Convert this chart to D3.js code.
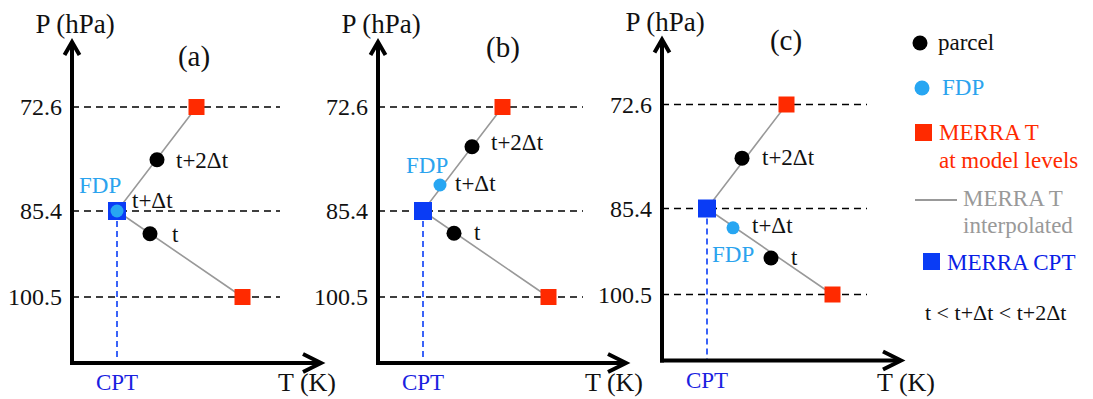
<!DOCTYPE html>
<html>
<head>
<meta charset="utf-8">
<script src="https://cdn.jsdelivr.net/npm/d3@7"></script>
<style>
  html, body { margin: 0; padding: 0; background: #fff; }
  svg { display: block; }
</style>
</head>
<body>
<svg id="chart" width="1093" height="399"></svg>
<script>
// ---------------- data ----------------
const panelNames = ["(a)", "(b)", "(c)"];
const levelP = [72.6, 85.4, 100.5];               // MERRA model levels (hPa)
const levelLabels = ["72.6", "85.4", "100.5"];
const merraT = [197.45, 189.5, 202.05];           // MERRA T at model levels (K, schematic)
const cptT = 189.5;                               // MERRA cold point temperature
const cptP = 85.4;
const stepLabels = ["t", "t+Δt", "t+2Δt"];
const fdpIndex = [1, 1, 1];                        // which parcel step is the FDP in each panel
const parcelT_a = [192.8, 189.5, 193.5];
const parcelP_a = [89.4, 85.4, 79.1];
const parcelT_b = [192.6, 191.2, 194.4];
const parcelP_b = [89.3, 82.2, 77.5];
const parcelT_c = [195.9, 192.1, 193.0];
const parcelP_c = [94.1, 88.8, 79.2];
const parcelT = [parcelT_a, parcelT_b, parcelT_c];
const parcelP = [parcelP_a, parcelP_b, parcelP_c];
const legendLabels = ["parcel", "FDP", "MERRA T", "at model levels", "MERRA T", "interpolated", "MERRA CPT", "t < t+Δt < t+2Δt"];

// ---------------- styles / layout ----------------
const FONT = '"Liberation Serif", Tinos, "Times New Roman", "DejaVu Serif", "Noto Serif", serif';
const C = {
  red: "#ff2a00", blue: "#0a3cf5", light: "#27a6f2", gray: "#999999",
  cptText: "#1a22e0", fdpText: "#2ba3ee", legBlue: "#0a1ee6"
};
const layout = [
  { x0: 72,  dy: 0,    xEnd: 321, dashEnd: 280, titleX: 194, titleY: 66, pY: 33, tkX: 278,
    lab: [{dx: 22, dy: 8}, {dx: 15, dy: -3}, {dx: 19, dy: 8}],
    fdp: {dx: -38, dy: -18} },
  { x0: 378, dy: 0,    xEnd: 626, dashEnd: 583, titleX: 503, titleY: 57, pY: 33, tkX: 585,
    lab: [{dx: 20, dy: 7}, {dx: 15, dy: 6}, {dx: 19, dy: 3}],
    fdp: {dx: -34, dy: -12} },
  { x0: 662, dy: -2.5, xEnd: 901, dashEnd: 867, titleX: 786, titleY: 52, pY: 33, tkX: 877,
    lab: [{dx: 20, dy: 7}, {dx: 19, dy: 5}, {dx: 20, dy: 7}],
    fdp: {dx: -21, dy: 34} }
];

const svg = d3.select("#chart").attr("font-family", FONT);

panelNames.forEach((name, i) => {
  const L = layout[i];
  const g = svg.append("g").attr("transform", `translate(0,${L.dy})`);
  const x = d3.scaleLinear().domain([185, 210]).range([L.x0, L.x0 + 250]);
  const y = d3.scaleLinear().domain(levelP).range([107, 211, 297]);
  const yAxisTop = 42, xAxisY = 363;

  // dashed level lines
  g.selectAll(".lvl").data(levelP).join("line")
    .attr("x1", L.x0).attr("x2", L.dashEnd)
    .attr("y1", d => y(d)).attr("y2", d => y(d))
    .attr("stroke", "#000").attr("stroke-width", 1.6).attr("stroke-dasharray", "7,5");

  // level tick labels
  g.selectAll(".lvlLab").data(levelP).join("text")
    .attr("x", L.x0 - 10).attr("y", d => y(d) + 8)
    .attr("text-anchor", "end").attr("font-size", 24).attr("fill", "#111")
    .text((d, k) => levelLabels[k]);

  // CPT dashed vertical
  g.append("line")
    .attr("x1", x(cptT)).attr("x2", x(cptT))
    .attr("y1", y(cptP)).attr("y2", xAxisY)
    .attr("stroke", C.blue).attr("stroke-width", 1.6).attr("stroke-dasharray", "6,4");

  // MERRA interpolated profile
  const line = d3.line().x(d => x(d[0])).y(d => y(d[1]));
  g.append("path")
    .attr("d", line(merraT.map((t, k) => [t, levelP[k]])))
    .attr("fill", "none").attr("stroke", C.gray).attr("stroke-width", 1.6);

  // axes
  g.append("line").attr("x1", L.x0).attr("x2", L.x0).attr("y1", xAxisY + 2).attr("y2", yAxisTop)
    .attr("stroke", "#000").attr("stroke-width", 4);
  g.append("line").attr("x1", L.x0 - 2).attr("x2", L.xEnd - 1).attr("y1", xAxisY).attr("y2", xAxisY)
    .attr("stroke", "#000").attr("stroke-width", 4);
  g.append("path")
    .attr("d", `M${L.x0 - 7.5},${yAxisTop + 13} L${L.x0},${yAxisTop} L${L.x0 + 7.5},${yAxisTop + 13}`)
    .attr("fill", "none").attr("stroke", "#000").attr("stroke-width", 4).attr("stroke-linejoin", "miter");
  g.append("path")
    .attr("d", `M${L.xEnd - 18},${xAxisY - 9} L${L.xEnd},${xAxisY} L${L.xEnd - 18},${xAxisY + 9}`)
    .attr("fill", "none").attr("stroke", "#000").attr("stroke-width", 4).attr("stroke-linejoin", "miter");

  // red squares at model levels (top and bottom)
  const rs = 16;
  g.selectAll(".red").data([0, 2]).join("rect")
    .attr("x", k => x(merraT[k]) - rs / 2).attr("y", k => y(levelP[k]) - rs / 2)
    .attr("width", rs).attr("height", rs).attr("fill", C.red);

  // CPT blue square
  const bs = 18;
  g.append("rect").attr("x", x(cptT) - bs / 2).attr("y", y(cptP) - bs / 2)
    .attr("width", bs).attr("height", bs).attr("fill", C.blue);

  // parcels
  const pts = parcelT[i].map((t, k) => ({ t, p: parcelP[i][k], k }));
  g.selectAll(".pt").data(pts).join("circle")
    .attr("cx", d => x(d.t)).attr("cy", d => y(d.p))
    .attr("r", d => d.k === fdpIndex[i] ? 6.5 : 7.5)
    .attr("fill", d => d.k === fdpIndex[i] ? C.light : "#000");

  g.selectAll(".ptLab").data(pts).join("text")
    .attr("x", d => x(d.t) + L.lab[d.k].dx).attr("y", d => y(d.p) + L.lab[d.k].dy)
    .attr("font-size", 23).attr("fill", "#111")
    .text(d => stepLabels[d.k]);

  const f = pts[fdpIndex[i]];
  g.append("text")
    .attr("x", x(f.t) + L.fdp.dx).attr("y", y(f.p) + L.fdp.dy)
    .attr("font-size", 23).attr("fill", C.fdpText).text("FDP");

  // titles
  g.append("text").attr("x", L.titleX).attr("y", L.titleY).attr("text-anchor", "middle")
    .attr("font-size", 29).attr("fill", "#111").text(name);
  g.append("text").attr("x", L.x0 + 3).attr("y", L.pY).attr("text-anchor", "middle")
    .attr("font-size", 27).attr("fill", "#111").text("P (hPa)");
  g.append("text").attr("x", L.tkX).attr("y", 391 - L.dy)
    .attr("font-size", 26).attr("fill", "#111").text("T (K)");
  g.append("text").attr("x", x(cptT)).attr("y", 390).attr("text-anchor", "middle")
    .attr("font-size", 23).attr("fill", C.cptText).text("CPT");
});

// ---------------- legend ----------------
const lg = svg.append("g");
lg.append("circle").attr("cx", 920).attr("cy", 43).attr("r", 7.5).attr("fill", "#000");
lg.append("text").attr("x", 938).attr("y", 50).attr("font-size", 23).attr("fill", "#111").text(legendLabels[0]);
lg.append("circle").attr("cx", 922).attr("cy", 88).attr("r", 7.5).attr("fill", C.light);
lg.append("text").attr("x", 942).attr("y", 95).attr("font-size", 23).attr("fill", C.fdpText).text(legendLabels[1]);
lg.append("rect").attr("x", 915).attr("y", 124).attr("width", 17).attr("height", 17).attr("fill", C.red);
lg.append("text").attr("x", 939).attr("y", 140).attr("font-size", 23).attr("fill", C.red).text(legendLabels[2]);
lg.append("text").attr("x", 939).attr("y", 168).attr("font-size", 23).attr("fill", C.red).text(legendLabels[3]);
lg.append("line").attr("x1", 915).attr("x2", 957).attr("y1", 200).attr("y2", 200).attr("stroke", C.gray).attr("stroke-width", 2);
lg.append("text").attr("x", 963).attr("y", 206).attr("font-size", 23).attr("fill", C.gray).text(legendLabels[4]);
lg.append("text").attr("x", 963).attr("y", 233).attr("font-size", 23).attr("fill", C.gray).text(legendLabels[5]);
lg.append("rect").attr("x", 923).attr("y", 253).attr("width", 17).attr("height", 17).attr("fill", C.blue);
lg.append("text").attr("x", 947).attr("y", 270).attr("font-size", 23).attr("fill", C.legBlue).text(legendLabels[6]);
lg.append("text").attr("x", 925).attr("y", 320).attr("font-size", 22).attr("fill", "#111").text(legendLabels[7]);
</script>
</body>
</html>
